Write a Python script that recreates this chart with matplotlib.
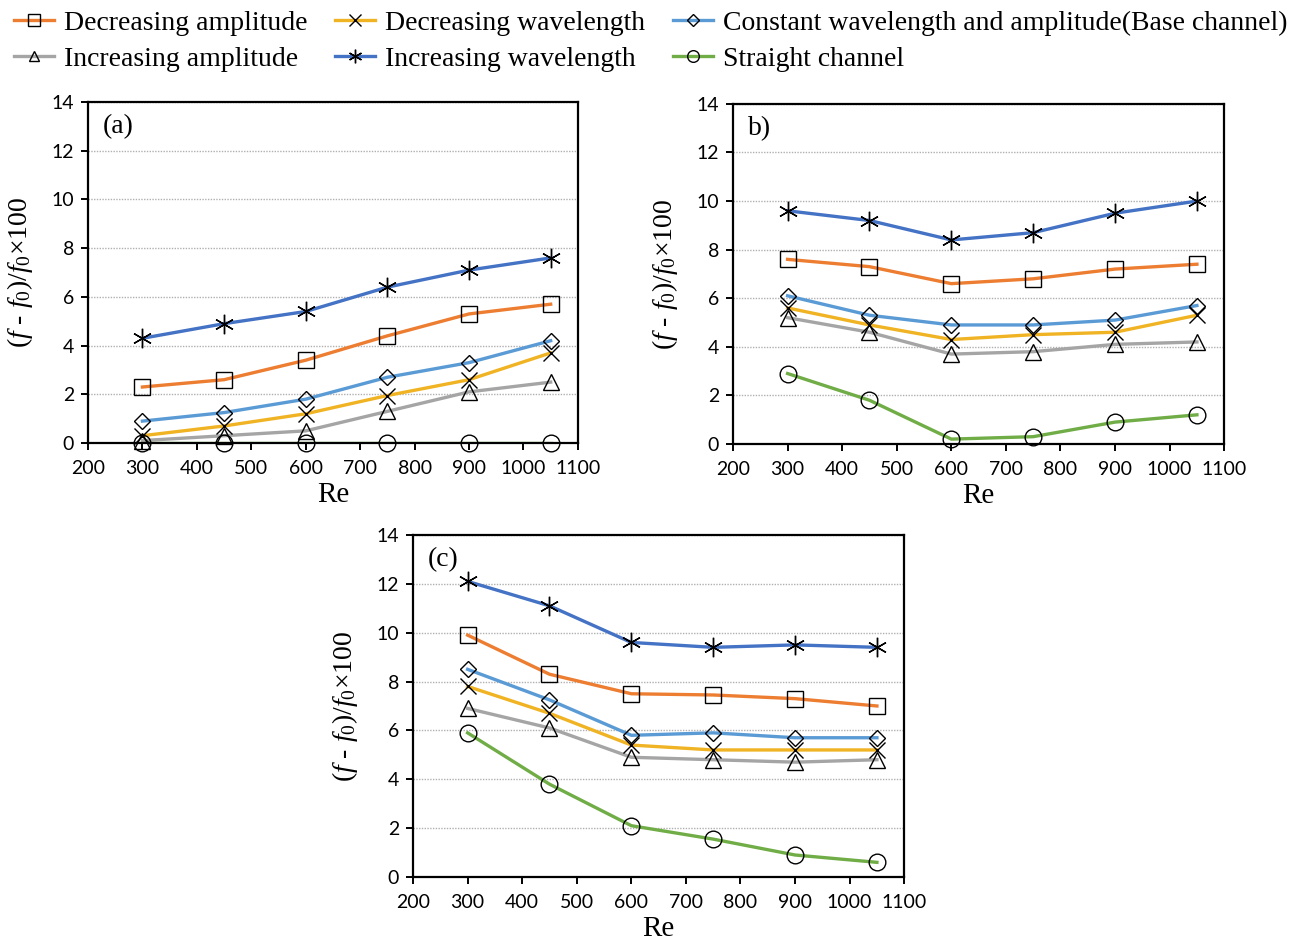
import numpy as np
import matplotlib.pyplot as plt
from matplotlib.lines import Line2D

plt.rcParams['mathtext.fontset'] = 'custom'
plt.rcParams['mathtext.rm'] = 'Liberation Serif'
plt.rcParams['mathtext.it'] = 'Liberation Serif:italic'

re_vals = [300, 450, 600, 750, 900, 1050]

series_names = ['Decreasing amplitude', 'Increasing amplitude',
                'Decreasing wavelength', 'Increasing wavelength',
                'Constant wavelength and amplitude(Base channel)', 'Straight channel']

# (a)
a_dec_amp = [2.3, 2.6, 3.4, 4.4, 5.3, 5.7]
a_inc_amp = [0.1, 0.3, 0.5, 1.3, 2.1, 2.5]
a_dec_wave = [0.3, 0.7, 1.2, 1.95, 2.6, 3.7]
a_inc_wave = [4.3, 4.9, 5.4, 6.4, 7.1, 7.6]
a_const = [0.9, 1.25, 1.8, 2.7, 3.3, 4.2]
a_straight = [0, 0, 0, 0, 0, 0]

# b)
b_dec_amp = [7.6, 7.3, 6.6, 6.8, 7.2, 7.4]
b_inc_amp = [5.2, 4.6, 3.7, 3.8, 4.1, 4.2]
b_dec_wave = [5.6, 4.9, 4.3, 4.5, 4.6, 5.3]
b_inc_wave = [9.6, 9.2, 8.4, 8.7, 9.5, 10.0]
b_const = [6.1, 5.3, 4.9, 4.9, 5.1, 5.7]
b_straight = [2.9, 1.8, 0.2, 0.3, 0.9, 1.2]

# (c)
c_dec_amp = [9.9, 8.3, 7.5, 7.45, 7.3, 7.0]
c_inc_amp = [6.9, 6.1, 4.9, 4.8, 4.7, 4.8]
c_dec_wave = [7.8, 6.7, 5.4, 5.2, 5.2, 5.2]
c_inc_wave = [12.1, 11.1, 9.6, 9.4, 9.5, 9.4]
c_const = [8.5, 7.25, 5.8, 5.9, 5.7, 5.7]
c_straight = [5.9, 3.8, 2.1, 1.55, 0.9, 0.6]

colors = ['#ED7D31', '#A5A5A5', '#F0B323', '#4472C4', '#5B9BD5', '#70AD47']
markers = ['s', '^', 'x', (6, 2, 0), 'D', 'o']
msizes = [12, 11, 12, 14, 8.5, 12]
# drawing order (Excel series order)
draw_order = [0, 2, 4, 3, 1, 5]

panels = [
    ('(a)', [0.0679, 0.5302, 0.378, 0.3616],
     [a_dec_amp, a_inc_amp, a_dec_wave, a_inc_wave, a_const, a_straight]),
    ('b)', [0.5656, 0.5292, 0.379, 0.3606],
     [b_dec_amp, b_inc_amp, b_dec_wave, b_inc_wave, b_const, b_straight]),
    ('(c)', [0.3187, 0.0700, 0.379, 0.3627],
     [c_dec_amp, c_inc_amp, c_dec_wave, c_inc_wave, c_const, c_straight]),
]

ylab = r'($\mathit{f}$ - $\mathit{f}_{\mathit{0}}$)/$\mathit{f}_{\mathit{0}}$×100'

fig = plt.figure(figsize=(12.96, 9.43), dpi=100)

for label, pos, data in panels:
    ax = fig.add_axes(pos)
    for i in draw_order:
        ax.plot(re_vals, data[i], color=colors[i], lw=2.4, zorder=2)
    for i in draw_order:
        ax.plot(re_vals, data[i], ls='none', marker=markers[i], ms=msizes[i],
                mfc='none', mec='black', mew=1.0, zorder=3, clip_on=False)
    ax.set_xlim(200, 1100)
    ax.set_ylim(0, 14)
    ax.set_xticks(np.arange(200, 1101, 100))
    ax.set_yticks(np.arange(0, 15, 2))
    ax.yaxis.grid(True, color='#b0b0b0', ls=(0, (1, 1)), lw=1.0)
    ax.set_axisbelow(True)
    for sp in ax.spines.values():
        sp.set_linewidth(1.6)
        sp.set_color('black')
    ax.tick_params(direction='out', length=5, width=1.4, labelsize=14,
                   colors='black')
    ax.tick_params(axis='x', pad=7)
    ax.tick_params(axis='y', pad=5)
    for t in ax.get_xticklabels() + ax.get_yticklabels():
        t.set_fontfamily('Lato')
    ax.set_xlabel('Re', fontsize=21, family='Liberation Serif', labelpad=4)
    ax.set_ylabel(ylab, fontsize=20, family='Liberation Serif', labelpad=12)
    ax.text(0.03, 0.965, label, transform=ax.transAxes, fontsize=20,
            family='Liberation Serif', va='top', ha='left')

handles = [Line2D([], [], color=colors[i], lw=2.4, marker=markers[i],
                  ms=msizes[i] * 0.7, mfc='none', mec='black', mew=1.0)
           for i in range(6)]
fig.legend(handles, series_names, loc='upper left', bbox_to_anchor=(0.002, 1.001),
           ncol=3, frameon=False, prop={'family': 'Liberation Serif', 'size': 20},
           handlelength=1.45, handletextpad=0.35, columnspacing=1.0, labelspacing=0.38,
           borderaxespad=0.0)

fig.savefig('out.png', dpi=100)
